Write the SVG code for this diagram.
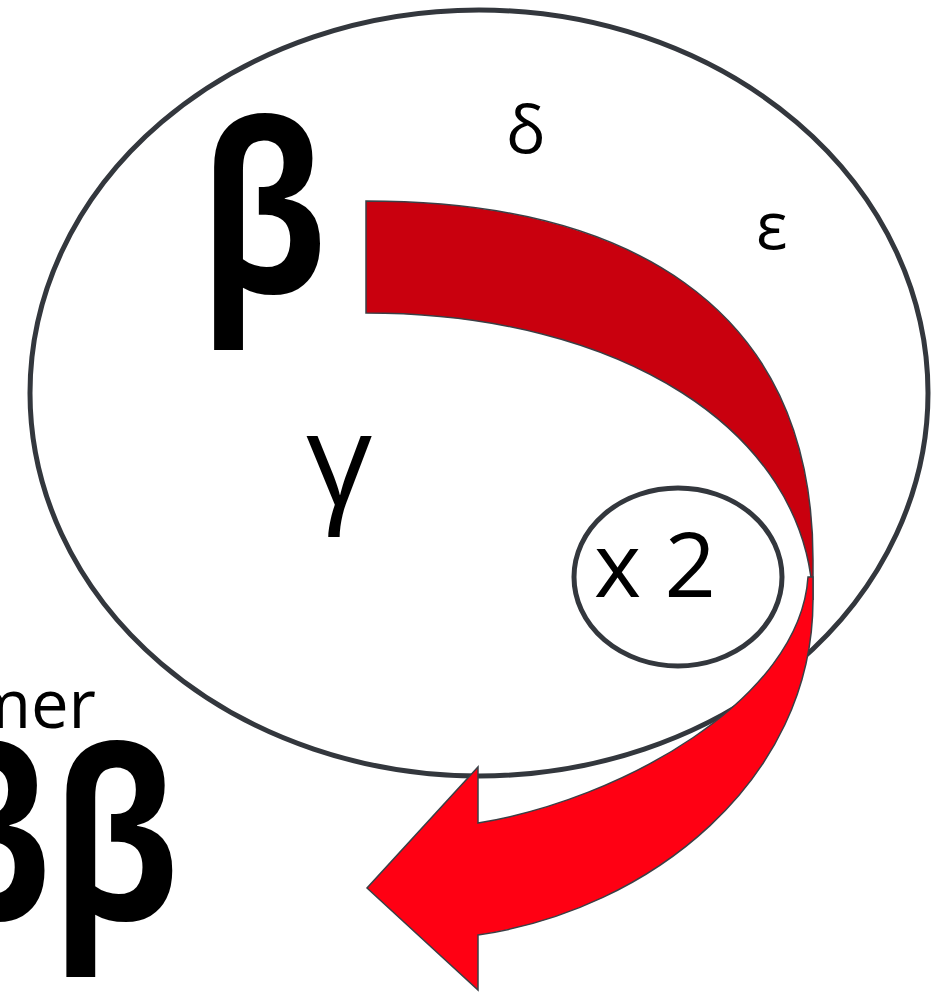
<svg xmlns="http://www.w3.org/2000/svg" width="944" height="992" viewBox="0 0 944 992">
<style>
.ring{fill:none;stroke:#33373d;stroke-width:5}
.arrow{stroke:#3a3f45;stroke-width:1.5;stroke-linejoin:miter}
.t{font-family:"Open Sans","Liberation Sans",sans-serif;fill:#000}
.b{font-weight:bold}
</style>
<rect width="944" height="992" fill="#fff"/>
<g id="outer-ring">
<ellipse class="ring" cx="479" cy="393" rx="449" ry="383"/>
</g>
<g id="labels">
<text class="t b" transform="translate(199,293) scale(0.9,1.095)" x="0" y="0" font-size="215">β</text>
<text class="t" x="506" y="153" font-size="66">δ</text>
<text class="t" x="756" y="249" font-size="66">ε</text>
<text class="t" x="306" y="506" font-size="130">γ</text>
<text class="t" x="96" y="728" font-size="67" text-anchor="end">mer</text>
<text class="t b" transform="translate(179,920) scale(0.9,1.095)" x="0" y="0" font-size="215" text-anchor="end">ββ</text>
</g>
<g id="connectors">
<path class="arrow" fill="#c9000e" d="M366,201 C620,201 813,300 813,560 L813,600 C806,430 620,313 366,313 Z"/>
<path class="arrow" fill="#ff0013" d="M808,577 L813,577 L813,600 C813,780 650,910 478,935 L478,990 L367,888 L478,767 L478,823 C620,800 800,700 808,577 Z"/>
</g>
<g id="x2">
<ellipse class="ring" cx="678" cy="577" rx="104" ry="89"/>
<text class="t" x="655" y="597" font-size="90" text-anchor="middle">x 2</text>
</g>
</svg>
